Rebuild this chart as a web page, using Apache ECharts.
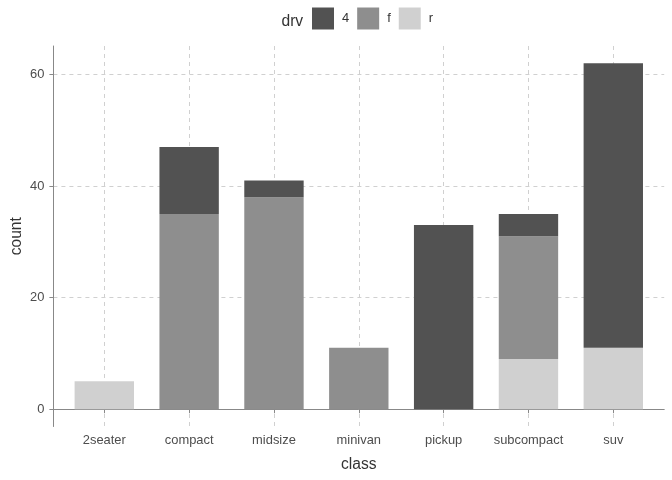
<!DOCTYPE html>
<html>
<head>
<meta charset="utf-8">
<script src="https://cdn.jsdelivr.net/npm/echarts@6/dist/echarts.min.js"></script>
<style>
  html, body { margin: 0; padding: 0; background: #fff; }
  #chart { width: 672px; height: 480px; }
</style>
</head>
<body>
<div id="chart"></div>
<script>
// mpg: count of cars by class, filled by drv
var classes = ['2seater', 'compact', 'midsize', 'minivan', 'pickup', 'subcompact', 'suv']
var drvR = [5, 0, 0, 0, 0, 9, 11]
var drvF = [0, 35, 38, 11, 0, 22, 0]
var drv4 = [0, 12, 3, 0, 33, 4, 51]
var yTicks = [0, 20, 40, 60]

var xPos = classes.map(function (c, i) { return i + 1 })

var font = 'Liberation Sans, Arial, sans-serif'
var gridLine = { show: true, lineStyle: { color: '#d0d0d0', width: 1, type: [4, 4] } }
var yMin = -3.1
var yMax = 65.1

// panel: 0.4 .. 7.6 in class units; bars grid trimmed by 0.1 unit each side
var panel = { left: 53.4, right: 7.8, top: 46, bottom: 53.5 }
var unit = (672 - panel.left - panel.right) / 7.2

var series = [
  { name: 'r', color: '#d0d0d0', data: drvR },
  { name: 'f', color: '#8e8e8e', data: drvF },
  { name: '4', color: '#525252', data: drv4 }
].map(function (s) {
  return {
    name: s.name,
    type: 'bar',
    stack: 'drv',
    xAxisIndex: 1,
    yAxisIndex: 1,
    barWidth: '70%',
    itemStyle: { color: s.color },
    data: s.data
  }
})

var option = {
  backgroundColor: '#fff',
  animation: false,
  title: {
    text: 'drv',
    left: 281.5,
    top: 13.5,
    padding: 0,
    textStyle: { fontFamily: font, fontSize: 15.6, fontWeight: 'normal', color: '#333' }
  },
  legend: {
    data: ['4', 'f', 'r'],
    left: 312,
    top: 7.5,
    padding: 0,
    itemWidth: 22,
    itemHeight: 22,
    itemGap: 8,
    icon: 'rect',
    selectedMode: false,
    textStyle: { fontFamily: font, fontSize: 12.9, color: '#333', padding: [0, 0, 0, 3] }
  },
  grid: [
    {
      left: panel.left, right: panel.right, top: panel.top, bottom: panel.bottom,
      outerBoundsMode: 'none', containLabel: false
    },
    {
      left: panel.left + 0.1 * unit, right: panel.right + 0.1 * unit, top: panel.top, bottom: panel.bottom,
      outerBoundsMode: 'none', containLabel: false
    }
  ],
  xAxis: [
    {
      gridIndex: 0,
      type: 'value',
      min: 0.4,
      max: 7.6,
      name: 'class',
      nameLocation: 'middle',
      nameGap: 30,
      nameMoveOverlap: false,
      nameTextStyle: { fontFamily: font, fontSize: 15.6, color: '#333' },
      axisLine: { show: true, lineStyle: { color: '#888', width: 1 } },
      axisTick: { show: true, length: 4, customValues: xPos, lineStyle: { color: '#888' } },
      axisLabel: {
        customValues: xPos,
        margin: 7.5,
        fontFamily: font,
        fontSize: 12.9,
        color: '#4d4d4d',
        formatter: function (v) { return classes[Math.round(v) - 1] }
      },
      splitLine: gridLine
    },
    {
      gridIndex: 1,
      type: 'category',
      data: classes,
      show: false
    }
  ],
  yAxis: [
    {
      gridIndex: 0,
      type: 'value',
      min: yMin,
      max: yMax,
      name: 'count',
      nameLocation: 'middle',
      nameGap: 29,
      nameMoveOverlap: false,
      nameTextStyle: { fontFamily: font, fontSize: 15.6, color: '#333' },
      axisLine: { show: true, lineStyle: { color: '#888', width: 1 } },
      axisTick: { show: true, length: 4, customValues: yTicks, lineStyle: { color: '#888' } },
      axisLabel: {
        customValues: yTicks,
        margin: 9,
        fontFamily: font,
        fontSize: 12.9,
        color: '#4d4d4d'
      },
      splitLine: gridLine
    },
    {
      gridIndex: 1,
      type: 'value',
      min: yMin,
      max: yMax,
      show: false,
      splitLine: { show: false }
    }
  ],
  series: series
}

var chart = echarts.init(document.getElementById('chart'))
chart.setOption(option)
</script>
</body>
</html>
